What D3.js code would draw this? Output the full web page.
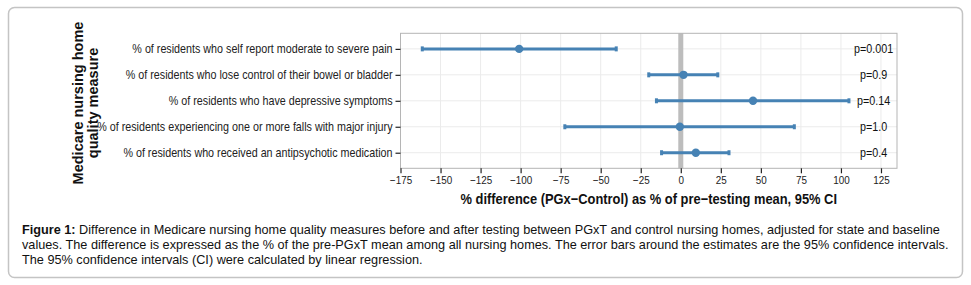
<!DOCTYPE html>
<html>
<head>
<meta charset="utf-8">
<script src="https://cdn.jsdelivr.net/npm/d3@7"></script>
<style>
  body { margin: 0; background: #fff; }
  svg { display: block; }
</style>
</head>
<body>
<svg id="canvas"></svg>
<script>
const measures = [
    "% of residents who self report moderate to severe pain",
    "% of residents who lose control of their bowel or bladder",
    "% of residents who have depressive symptoms",
    "% of residents experiencing one or more falls with major injury",
    "% of residents who received an antipsychotic medication"
];
const estimate = [-100.9, 1.7, 45.1, -0.6, 9.4];
const ciLow = [-161.4, -20.0, -15.2, -72.4, -12.0];
const ciHigh = [-40.3, 23.1, 105.0, 70.9, 30.1];
const pLabels = ["p=0.001", "p=0.9", "p=0.14", "p=1.0", "p=0.4"];
const xTicks = [-175, -150, -125, -100, -75, -50, -25, 0, 25, 50, 75, 100, 125];
const captionLines = [
    "Difference in Medicare nursing home quality measures before and after testing between PGxT and control nursing homes, adjusted for state and baseline",
    "values. The difference is expressed as the % of the pre-PGxT mean among all nursing homes. The error bars around the estimates are the 95% confidence intervals.",
    "The 95% confidence intervals (CI) were calculated by linear regression."
];

const data = measures.map((m, i) => ({
    measure: m, est: estimate[i], lo: ciLow[i], hi: ciHigh[i], p: pLabels[i]
}));

const width = 971,
    height = 285;

const svg = d3.select("#canvas")
    .attr("width", width)
    .attr("height", height);

const panel = { left: 400.5, right: 897, top: 33.3, bottom: 168.3 };
const font = "Arial, 'Liberation Sans', sans-serif";
const blue = "#4682b4";
// the figure text is horizontally squeezed
const sx = 0.86;

// outer frame
svg.append("rect")
    .attr("x", 8.5).attr("y", 7.5)
    .attr("width", 954).attr("height", 270)
    .attr("rx", 6)
    .attr("fill", "#fff")
    .attr("stroke", "#c4c4c4")
    .attr("stroke-width", 1.5);

const scaleX = d3.scaleLinear()
    .domain([-175, 135])
    .range([panel.left, panel.right]);
const scaleY = d3.scalePoint()
    .domain(measures)
    .range([panel.top, panel.bottom])
    .padding(0.6);

const plot = svg.append("g").classed("plot", true);

// grid
plot.append("g").selectAll("line")
    .data(xTicks)
    .join("line")
    .attr("x1", d => scaleX(d)).attr("x2", d => scaleX(d))
    .attr("y1", panel.top).attr("y2", panel.bottom)
    .attr("stroke", "#ebebeb").attr("stroke-width", 1);
plot.append("g").selectAll("line")
    .data(measures)
    .join("line")
    .attr("x1", panel.left).attr("x2", panel.right)
    .attr("y1", d => scaleY(d)).attr("y2", d => scaleY(d))
    .attr("stroke", "#ebebeb").attr("stroke-width", 1);

// zero reference
plot.append("line")
    .attr("x1", scaleX(0)).attr("x2", scaleX(0))
    .attr("y1", panel.top).attr("y2", panel.bottom)
    .attr("stroke", "#bdbdbd").attr("stroke-width", 5);

// error bars
const rows = plot.append("g").selectAll("g")
    .data(data)
    .join("g")
    .attr("transform", d => `translate(0, ${scaleY(d.measure)})`);
rows.append("line")
    .attr("x1", d => scaleX(d.lo)).attr("x2", d => scaleX(d.hi))
    .attr("stroke", blue).attr("stroke-width", 3);
rows.append("line")
    .attr("x1", d => scaleX(d.lo)).attr("x2", d => scaleX(d.lo))
    .attr("y1", -2.5).attr("y2", 2.5)
    .attr("stroke", blue).attr("stroke-width", 3);
rows.append("line")
    .attr("x1", d => scaleX(d.hi)).attr("x2", d => scaleX(d.hi))
    .attr("y1", -2.5).attr("y2", 2.5)
    .attr("stroke", blue).attr("stroke-width", 3);
rows.append("circle")
    .attr("cx", d => scaleX(d.est))
    .attr("r", 4.2)
    .attr("fill", blue);
rows.append("text")
    .attr("transform", `translate(${scaleX(120.4)}, 0) scale(${sx}, 1)`)
    .attr("dy", "0.35em")
    .attr("text-anchor", "middle")
    .attr("font-family", font)
    .attr("font-size", 12.5)
    .attr("fill", "#111")
    .text(d => d.p);

// panel border
plot.append("rect")
    .attr("x", panel.left).attr("y", panel.top)
    .attr("width", panel.right - panel.left)
    .attr("height", panel.bottom - panel.top)
    .attr("fill", "none")
    .attr("stroke", "#b5b5b5").attr("stroke-width", 1);

// axes
const axisY = svg.append("g")
    .attr("transform", `translate(${panel.left}, 0)`)
    .call(d3.axisLeft(scaleY).tickSize(5).tickPadding(3));
const axisX = svg.append("g")
    .attr("transform", `translate(0, ${panel.bottom})`)
    .call(d3.axisBottom(scaleX).tickValues(xTicks).tickSize(5).tickPadding(3)
        .tickFormat(d => d < 0 ? "\u2212" + Math.abs(d) : d));
[axisY, axisX].forEach(ax => {
    ax.select(".domain").remove();
    ax.selectAll(".tick line").attr("stroke", "#222").attr("stroke-width", 1.2);
    ax.selectAll(".tick text")
        .attr("font-family", font)
        .attr("fill", "#222")
        .attr("transform", `scale(${sx}, 1)`);
});
axisY.selectAll(".tick text").attr("font-size", 12.5).attr("x", -8 / sx);
axisX.selectAll(".tick text").attr("font-size", 11.5);

// axis titles
svg.append("text")
    .attr("transform", "translate(78, 103) rotate(-90)")
    .attr("text-anchor", "middle")
    .attr("font-family", font)
    .attr("font-weight", "bold")
    .attr("font-size", 14.5)
    .attr("fill", "#111")
    .selectAll("tspan")
    .data(["Medicare nursing home", "quality measure"])
    .join("tspan")
    .attr("x", 0)
    .attr("dy", (d, i) => i === 0 ? "0.35em" : "1.02em")
    .text(d => d);

svg.append("text")
    .attr("transform", `translate(${(panel.left + panel.right) / 2}, 204) scale(${sx}, 1)`)
    .attr("text-anchor", "middle")
    .attr("font-family", font)
    .attr("font-weight", "bold")
    .attr("font-size", 15)
    .attr("fill", "#111")
    .text("% difference (PGx\u2212Control) as % of pre\u2212testing mean, 95% CI");

// caption
const caption = svg.append("g")
    .attr("font-family", font)
    .attr("font-size", 12.7)
    .attr("fill", "#111");
caption.selectAll("text")
    .data(captionLines)
    .join("text")
    .attr("x", 22)
    .attr("y", (d, i) => 234 + i * 15)
    .each(function (d, i) {
        const t = d3.select(this);
        if (i === 0) {
            t.append("tspan").attr("font-weight", "bold").text("Figure 1: ");
        }
        t.append("tspan").text(d);
    });
</script>
</body>
</html>
